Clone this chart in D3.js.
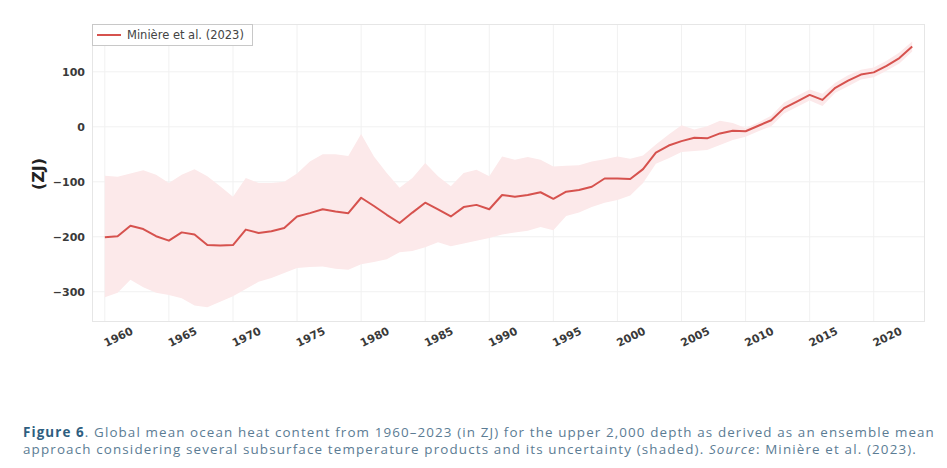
<!DOCTYPE html>
<html>
<head>
<meta charset="utf-8">
<script src="https://cdn.jsdelivr.net/npm/d3@7"></script>
<style>
  html, body { margin: 0; padding: 0; background: #ffffff; }
  svg { display: block; }
</style>
</head>
<body>
<svg id="chart" width="947" height="468"></svg>
<script>
const years = d3.range(1960, 2024);
const meanOHC = [
  -201, -199, -180, -186, -199, -207, -192, -196, -215, -216,
  -215, -187, -193, -190, -184, -163, -157, -150, -154, -157,
  -129, -144, -160, -175, -156, -138, -150, -163, -146, -142,
  -150, -124, -127, -124, -119, -131, -118, -115, -109, -94,
  -94, -95, -77, -47, -34, -26, -20, -21, -12, -7,
  -8, 2, 12, 34, 46, 58, 49, 71, 84, 95,
  99, 111, 125, 146
];
const upperOHC = [
  -89, -91, -85, -79, -87, -102, -87, -77, -90, -108,
  -127, -93, -102, -102, -100, -85, -63, -50, -50, -53,
  -13, -54, -84, -111, -93, -66, -90, -108, -84, -78,
  -90, -54, -60, -55, -60, -72, -71, -70, -63, -59,
  -54, -58, -52, -32, -14, 3, -5, 1, 11, 7,
  -2, 8, 20, 44, 56, 68, 60, 80, 94, 104,
  108, 120, 135, 155
];
const lowerOHC = [
  -310, -302, -278, -292, -302, -306, -312, -325, -328, -318,
  -308, -295, -282, -275, -266, -257, -255, -254, -258, -260,
  -250, -246, -241, -228, -226, -219, -210, -217, -212, -207,
  -202, -196, -192, -189, -182, -188, -162, -156, -146, -138,
  -133, -125, -102, -67, -57, -46, -44, -42, -33, -24,
  -18, -8, 1, 24, 36, 48, 38, 62, 74, 86,
  90, 102, 115, 137
];
const xTicks = [1960, 1965, 1970, 1975, 1980, 1985, 1990, 1995, 2000, 2005, 2010, 2015, 2020];
const yTicks = [-300, -200, -100, 0, 100];
const seriesName = "Minière et al. (2023)";
const yLabel = "(ZJ)";
const captionBold = "Figure 6";
const captionLine1 = ". Global mean ocean heat content from 1960–2023 (in ZJ) for the upper 2,000 depth as derived as an ensemble mean";
const captionLine2a = "approach considering several subsurface temperature products and its uncertainty (shaded). ";
const captionLine2b = "Source";
const captionLine2c = ": Minière et al. (2023).";

const data = years.map((y, i) => ({ year: y, mean: meanOHC[i], lo: lowerOHC[i], hi: upperOHC[i] }));

const svg = d3.select("#chart");
const plot = { left: 92, right: 925, top: 24, bottom: 322 };

const x = d3.scaleLinear().domain([1959, 2024]).range([plot.left, plot.right]);
const y = d3.scaleLinear().domain([-355, 187]).range([plot.bottom, plot.top]);

const lineColor = "#d6524e";
const bandColor = "#fce9ea";

svg.append("rect")
  .attr("x", plot.left).attr("y", plot.top)
  .attr("width", plot.right - plot.left).attr("height", plot.bottom - plot.top)
  .attr("fill", "#ffffff");

// grid
const grid = svg.append("g");
grid.selectAll("line.v").data(xTicks).join("line")
  .attr("x1", d => x(d)).attr("x2", d => x(d))
  .attr("y1", plot.top).attr("y2", plot.bottom)
  .attr("stroke", "#f1f1f1").attr("stroke-width", 1);
grid.selectAll("line.h").data(yTicks).join("line")
  .attr("x1", plot.left).attr("x2", plot.right)
  .attr("y1", d => y(d)).attr("y2", d => y(d))
  .attr("stroke", "#f1f1f1").attr("stroke-width", 1);

// band
const area = d3.area()
  .x(d => x(d.year))
  .y0(d => y(d.lo))
  .y1(d => y(d.hi));
svg.append("path").datum(data)
  .attr("d", area)
  .attr("fill", bandColor)
  .attr("stroke", "none");

// line
const line = d3.line().x(d => x(d.year)).y(d => y(d.mean));
svg.append("path").datum(data)
  .attr("d", line)
  .attr("fill", "none")
  .attr("stroke", lineColor)
  .attr("stroke-width", 2)
  .attr("stroke-linejoin", "round");

// frame
svg.append("rect")
  .attr("x", plot.left + 0.5).attr("y", plot.top + 0.5)
  .attr("width", plot.right - plot.left - 1).attr("height", plot.bottom - plot.top - 1)
  .attr("fill", "none")
  .attr("stroke", "#e6e6e6").attr("stroke-width", 1);

// y axis
const yAxis = d3.axisLeft(y).tickValues(yTicks).tickSize(0).tickPadding(7)
  .tickFormat(d => d < 0 ? "\u2212" + Math.abs(d) : String(d));
const yg = svg.append("g").attr("transform", `translate(${plot.left},0)`).call(yAxis);
yg.select(".domain").remove();
yg.selectAll("text")
  .attr("font-family", "DejaVu Sans")
  .attr("font-weight", "bold")
  .attr("font-size", 11)
  .attr("fill", "#3a3a3a");

// x axis
const xAxis = d3.axisBottom(x).tickValues(xTicks).tickSize(0).tickFormat(d3.format("d"));
const xg = svg.append("g").attr("transform", `translate(0,${plot.bottom})`).call(xAxis);
xg.select(".domain").remove();
xg.selectAll("text")
  .attr("font-family", "DejaVu Sans")
  .attr("font-weight", "bold")
  .attr("font-size", 11)
  .attr("fill", "#3a3a3a")
  .attr("text-anchor", "start")
  .attr("dy", null)
  .attr("y", 0)
  .attr("transform", "translate(1,25) rotate(-26)");

// y label
svg.append("text")
  .attr("transform", `translate(44,174) rotate(-90)`)
  .attr("text-anchor", "middle")
  .attr("font-family", "DejaVu Sans")
  .attr("font-weight", "bold")
  .attr("font-size", 16)
  .attr("fill", "#222")
  .text(yLabel);

// legend
const lg = svg.append("g");
lg.append("rect")
  .attr("x", plot.left + 0.5).attr("y", plot.top + 0.5)
  .attr("width", 160).attr("height", 21)
  .attr("fill", "#fff").attr("stroke", "#c8c8c8").attr("stroke-width", 1);
lg.append("line")
  .attr("x1", plot.left + 5).attr("x2", plot.left + 29)
  .attr("y1", plot.top + 11).attr("y2", plot.top + 11)
  .attr("stroke", lineColor).attr("stroke-width", 2);
const legText = lg.append("text")
  .attr("x", plot.left + 35).attr("y", plot.top + 11)
  .attr("dominant-baseline", "central")
  .attr("font-family", "DejaVu Sans")
  .attr("font-size", 11)
  .attr("fill", "#444")
  .text(seriesName);
{
  const w = legText.node().getComputedTextLength();
  legText.attr("font-size", 11 * 117 / w);
}

// caption
const capFont = "Open Sans";
const capSize = 13.4;
const t1 = svg.append("text")
  .attr("x", 23).attr("y", 437)
  .attr("font-family", capFont)
  .attr("font-size", capSize)
  .attr("fill", "#5b7c94");
t1.append("tspan").attr("font-weight", "bold").attr("fill", "#2e5e80").text(captionBold);
t1.append("tspan").text(captionLine1);

const t2 = svg.append("text")
  .attr("x", 23).attr("y", 454)
  .attr("font-family", capFont)
  .attr("font-size", capSize)
  .attr("fill", "#5b7c94");
t2.append("tspan").text(captionLine2a);
t2.append("tspan").attr("font-style", "italic").text(captionLine2b);
t2.append("tspan").text(captionLine2c);

// adjust letter spacing so each caption line spans the same width as in the reference
function fitWidth(sel, target) {
  const w = sel.node().getComputedTextLength();
  const n = sel.text().length;
  sel.attr("letter-spacing", ((target - w) / n).toFixed(3));
}
fitWidth(t1, 912);
fitWidth(t2, 894);
</script>
</body>
</html>
